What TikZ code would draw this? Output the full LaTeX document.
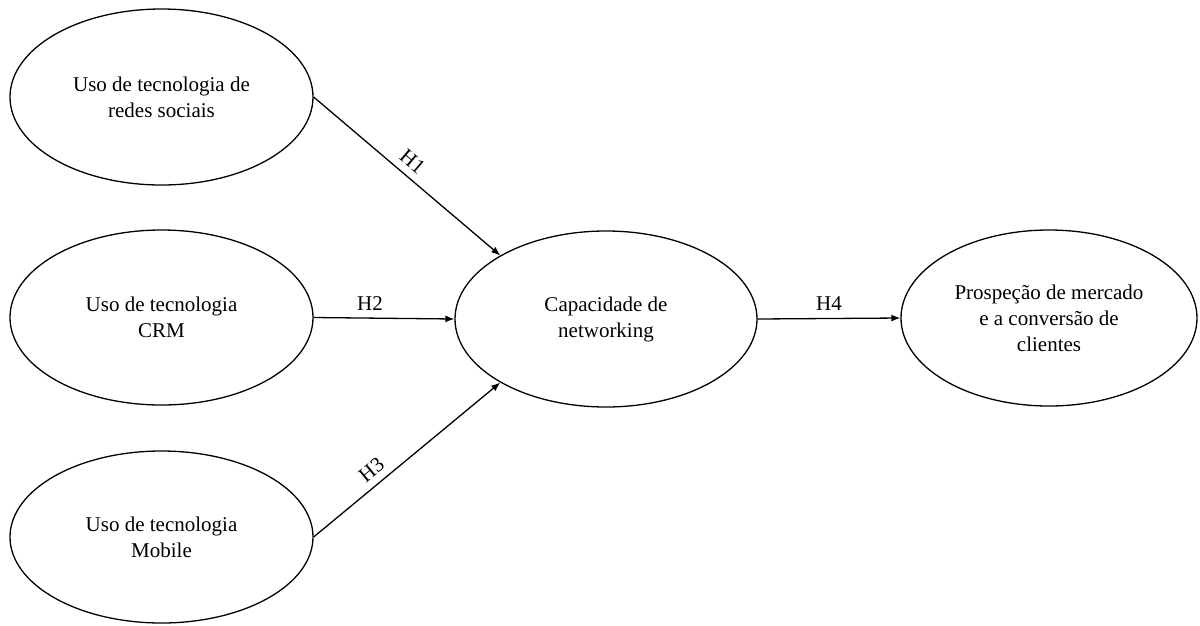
\documentclass[tikz,border=0pt]{standalone}
\usepackage{fontspec}
\setmainfont{LiberationSerif}[Extension=.ttf, UprightFont=*-Regular, BoldFont=*-Bold, ItalicFont=*-Italic, BoldItalicFont=*-BoldItalic]
\usetikzlibrary{shapes.geometric,arrows.meta}
\tikzset{
  construct/.style={draw, line width=1.3pt, ellipse, inner sep=0pt, align=center,
    font=\fontsize{21}{26}\selectfont},
  link/.style={line width=1.3pt, -{Latex[length=9pt,width=7pt]}},
  hlabel/.style={font=\fontsize{21}{26}\selectfont, inner sep=7pt}
}
\begin{document}
\begin{tikzpicture}[x=1pt,y=-1pt]
\useasboundingbox (0,0) rectangle (1200,625);
\node[construct, minimum width=303pt, minimum height=176pt] (e1) at (161.5,97) {Uso de tecnologia de\\redes sociais};
\node[construct, minimum width=303pt, minimum height=175pt] (e2) at (161.5,317.5) {Uso de tecnologia\\CRM};
\node[construct, minimum width=303pt, minimum height=172pt] (e3) at (161.5,537) {Uso de tecnologia\\Mobile};
\node[construct, minimum width=302pt, minimum height=176pt] (c) at (606,319) {Capacidade de\\networking};
\node[construct, minimum width=296pt, minimum height=176pt] (r) at (1049,318) {Prospeção de mercado\\e a conversão de\\clientes};
\draw[link] (e1.east) -- node[hlabel, pos=0.48, above, sloped] (h1) {H1} (c.149);
\draw[link] (e2.east) -- node[hlabel, pos=0.4, above] (h2) {H2} (c.west);
\draw[link] (e3.east) -- node[hlabel, pos=0.36, above, sloped] (h3) {H3} (c.211);
\draw[link] (c.east) -- node[hlabel, pos=0.5, above] (h4) {H4} (r.west);
\end{tikzpicture}
\end{document}
